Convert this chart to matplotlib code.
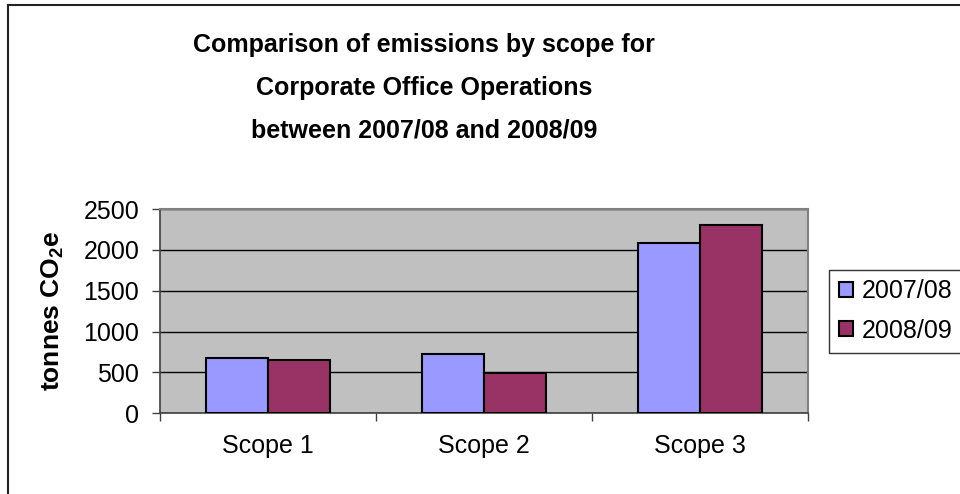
import matplotlib
matplotlib.use("Agg")
import matplotlib.pyplot as plt
import numpy as np
from matplotlib.lines import Line2D
from matplotlib.ticker import FixedLocator, NullFormatter

plt.rcParams.update({
    "font.family": ["Liberation Sans", "DejaVu Sans"],
    "mathtext.fontset": "custom",
    "mathtext.rm": "Liberation Sans",
    "mathtext.bf": "Liberation Sans:bold",
})

categories = ["Scope 1", "Scope 2", "Scope 3"]
series_names = ["2007/08", "2008/09"]
values_0708 = [680, 730, 2078]
values_0809 = [655, 490, 2300]
yticks = [0, 500, 1000, 1500, 2000, 2500]

W, H = 960, 494
fig = plt.figure(figsize=(9.6, 4.94), dpi=100)
ax = fig.add_axes([160 / W, 1 - 413.3 / H, (808 - 160) / W, (413.3 - 209) / H])
ax.set_facecolor("#C0C0C0")

x = np.arange(len(categories))
bw = 0.286
ax.bar(x - bw / 2, values_0708, bw, color="#9999FF", edgecolor="black",
       linewidth=1.5, label=series_names[0], zorder=3)
ax.bar(x + bw / 2, values_0809, bw, color="#993366", edgecolor="black",
       linewidth=1.5, label=series_names[1], zorder=3)

ax.set_xlim(-0.5, 2.5)
ax.set_ylim(0, 2500)
ax.set_yticks(yticks)
ax.yaxis.grid(True, color="black", linewidth=1.0, zorder=1)
ax.set_axisbelow(True)

# category boundaries carry tick marks, labels sit in between
ax.xaxis.set_major_locator(FixedLocator([-0.5, 0.5, 1.5, 2.5]))
ax.xaxis.set_major_formatter(NullFormatter())
ax.xaxis.set_minor_locator(FixedLocator(x))
ax.set_xticklabels(categories, minor=True)
ax.tick_params(axis="x", which="major", direction="out", length=6, width=1, color="#404040")
ax.tick_params(axis="x", which="minor", length=0, pad=15, labelsize=18)
ax.tick_params(axis="y", direction="out", length=6, width=1, color="#404040", pad=9, labelsize=18)

for side in ["top", "right"]:
    ax.spines[side].set_color("#808080")
    ax.spines[side].set_linewidth(1.5)
for side in ["left", "bottom"]:
    ax.spines[side].set_color("#404040")
    ax.spines[side].set_linewidth(1.2)

fig.text(53 / W, 1 - 311 / H, r"tonnes CO$_\mathbf{2}$e", rotation=90,
         ha="center", va="center", fontsize=19, fontweight="bold")

fig.text(424 / W, 1 - 88 / H,
         "Comparison of emissions by scope for\nCorporate Office Operations\nbetween 2007/08 and 2008/09",
         ha="center", va="center", fontsize=18, fontweight="bold", linespacing=2.0)

leg = ax.legend(loc="center left", bbox_to_anchor=(829 / W, 1 - 311 / H),
                bbox_transform=fig.transFigure, borderaxespad=0, fontsize=18,
                handlelength=0.55, handleheight=0.55, handletextpad=0.35,
                labelspacing=0.6, borderpad=0.4, frameon=True, fancybox=False)
leg.get_frame().set_edgecolor("black")
leg.get_frame().set_linewidth(1.0)

# chart area frame, cropped on the right and bottom in the reference
fig.add_artist(Line2D([7.5 / W, 7.5 / W], [0, 1 - 5.5 / H], transform=fig.transFigure,
                      color="#222222", linewidth=1.5))
fig.add_artist(Line2D([7.5 / W, 1], [1 - 5.5 / H, 1 - 5.5 / H], transform=fig.transFigure,
                      color="#222222", linewidth=1.5))

fig.savefig("out.png", dpi=100)
